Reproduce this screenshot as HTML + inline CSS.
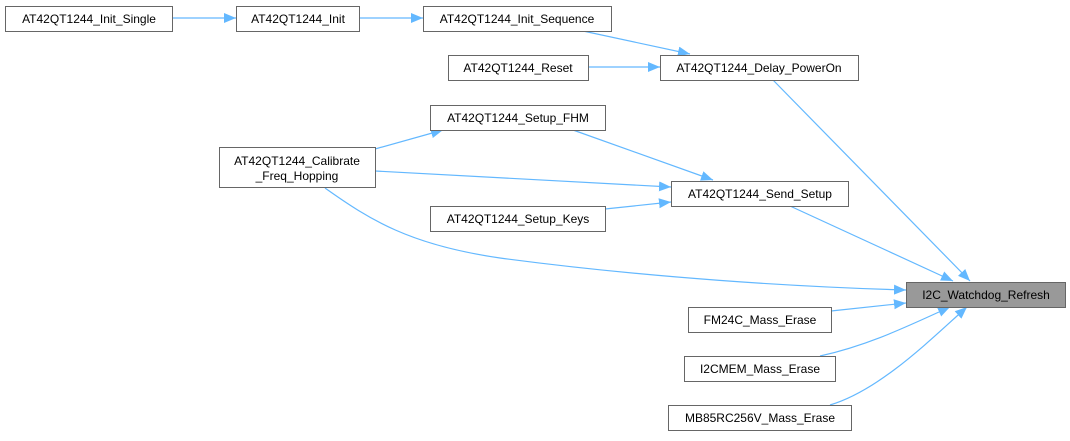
<!DOCTYPE html>
<html><head><meta charset="utf-8"><style>
body{margin:0;background:#fff}
svg text{font-family:"Liberation Sans",sans-serif;font-size:12px;fill:#000}
</style></head><body>
<svg width="1070" height="436" viewBox="0 0 1070 436" xmlns="http://www.w3.org/2000/svg">
<defs><marker id="a" viewBox="0 0 12 12" refX="12" refY="6" markerWidth="12" markerHeight="12" markerUnits="userSpaceOnUse" orient="auto"><path d="M0,1 L12,6 L0,11 z" fill="#63b8ff"/></marker></defs>
<g fill="none" stroke="#63b8ff" stroke-width="1.2" marker-end="url(#a)">
<path d="M172,18 L236,18"/>
<path d="M359,18 L423,18"/>
<path d="M583,31 L690,54"/>
<path d="M588,67 L660,67"/>
<path d="M773,80 L970,281"/>
<path d="M573,130 L713,180"/>
<path d="M375,171 L671,187"/>
<path d="M605,209 L671,202"/>
<path d="M790,206 L953,281"/>
<path d="M375,149 L443,130"/>
<path d="M325,188 C370,220 410,245 500,258 C650,278 800,287 906,290"/>
<path d="M831,311 L906,303"/>
<path d="M820,356 C870,345 910,325 950,307"/>
<path d="M830,405 C880,390 930,340 967,307"/>
</g>
<g stroke="#666" stroke-width="1" fill="#fff">
<rect x="5.5" y="6.5" width="167" height="25"/>
<rect x="236.5" y="6.5" width="123" height="25"/>
<rect x="423.5" y="6.5" width="188" height="25"/>
<rect x="448.5" y="55.5" width="140" height="25"/>
<rect x="660.5" y="55.5" width="198" height="25"/>
<rect x="430.5" y="105.5" width="175" height="25"/>
<rect x="219.5" y="147.5" width="156" height="40"/>
<rect x="671.5" y="181.5" width="177" height="25"/>
<rect x="430.5" y="206.5" width="175" height="25"/>
<rect x="906.5" y="282.5" width="159" height="25" fill="#999"/>
<rect x="688.5" y="307.5" width="143" height="25"/>
<rect x="684.5" y="356.5" width="151" height="25"/>
<rect x="668.5" y="405.5" width="183" height="25"/>
</g>
<g text-anchor="middle">
<text x="89" y="23">AT42QT1244_Init_Single</text>
<text x="298" y="23">AT42QT1244_Init</text>
<text x="517" y="23">AT42QT1244_Init_Sequence</text>
<text x="518" y="72">AT42QT1244_Reset</text>
<text x="759" y="72">AT42QT1244_Delay_PowerOn</text>
<text x="518" y="122">AT42QT1244_Setup_FHM</text>
<text x="297" y="165">AT42QT1244_Calibrate</text>
<text x="297" y="180">_Freq_Hopping</text>
<text x="760" y="198">AT42QT1244_Send_Setup</text>
<text x="518" y="223">AT42QT1244_Setup_Keys</text>
<text x="986" y="299">I2C_Watchdog_Refresh</text>
<text x="760" y="324">FM24C_Mass_Erase</text>
<text x="760" y="373">I2CMEM_Mass_Erase</text>
<text x="760" y="422">MB85RC256V_Mass_Erase</text>
</g>
</svg>
</body></html>
